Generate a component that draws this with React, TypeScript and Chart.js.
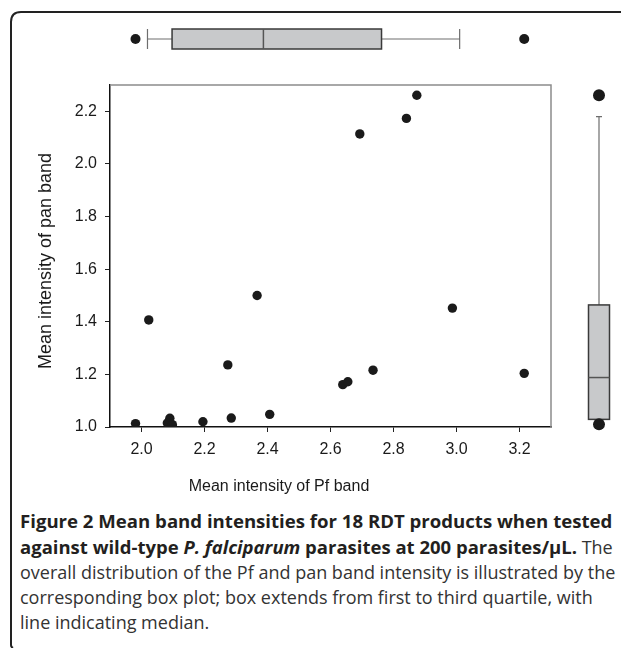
import React, { useEffect, useRef } from "react";
import { Chart, registerables } from "chart.js";

Chart.register(...registerables);

// Scatter data
const pfBand = [2.874, 2.841, 2.693, 2.023, 2.367, 2.987, 2.274, 2.735, 3.215, 2.639, 2.655, 1.981, 2.09, 2.082, 2.098, 2.195, 2.285, 2.407];
const panBand = [2.261, 2.173, 2.114, 1.407, 1.5, 1.452, 1.236, 1.216, 1.204, 1.161, 1.172, 1.013, 1.033, 1.015, 1.009, 1.02, 1.034, 1.048];

const xTickValues = [2.0, 2.2, 2.4, 2.6, 2.8, 3.0, 3.2];
const yTickValues = [1.0, 1.2, 1.4, 1.6, 1.8, 2.0, 2.2];

// Box plot stats: lower whisker, Q1, median, Q3, upper whisker
const pfBox = [2.019, 2.097, 2.387, 2.762, 3.01];
const pfOutliers = [1.981, 3.215];
const panBox = [1.013, 1.029, 1.188, 1.464, 2.18];
const panOutliers = [1.01, 2.261];

const xTitle = "Mean intensity of Pf band";
const yTitle = "Mean intensity of pan band";

const chartFont = '"Liberation Sans", Arial, Helvetica, sans-serif';

const boxPlotPlugin = {
  id: "marginalBoxes",
  afterDraw(chart: any) {
    const { ctx, chartArea: a, scales } = chart;
    const xs = scales.x;
    const ys = scales.y;
    ctx.save();

    // top & right frame of plot area (gray)
    ctx.strokeStyle = "#8c8c8c";
    ctx.lineWidth = 1.5;
    ctx.beginPath();
    ctx.moveTo(a.left, a.top);
    ctx.lineTo(a.right, a.top);
    ctx.lineTo(a.right, a.bottom);
    ctx.stroke();

    // horizontal box plot (Pf band) above the plot
    const cy = a.top - 46;
    const hh = 10;
    const [lw, q1, md, q3, uw] = pfBox.map((v) => xs.getPixelForValue(v));
    ctx.strokeStyle = "#6e6e6e";
    ctx.lineWidth = 1.2;
    ctx.beginPath();
    ctx.moveTo(lw, cy);
    ctx.lineTo(q1, cy);
    ctx.moveTo(q3, cy);
    ctx.lineTo(uw, cy);
    ctx.moveTo(lw, cy - hh);
    ctx.lineTo(lw, cy + hh);
    ctx.moveTo(uw, cy - hh);
    ctx.lineTo(uw, cy + hh);
    ctx.stroke();
    ctx.fillStyle = "#c8c9cb";
    ctx.fillRect(q1, cy - hh, q3 - q1, 2 * hh);
    ctx.strokeStyle = "#3a3a3a";
    ctx.lineWidth = 1.5;
    ctx.strokeRect(q1, cy - hh, q3 - q1, 2 * hh);
    ctx.strokeStyle = "#555";
    ctx.beginPath();
    ctx.moveTo(md, cy - hh);
    ctx.lineTo(md, cy + hh);
    ctx.stroke();
    ctx.fillStyle = "#1a1a1a";
    pfOutliers.forEach((v) => {
      ctx.beginPath();
      ctx.arc(xs.getPixelForValue(v), cy, 5, 0, Math.PI * 2);
      ctx.fill();
    });

    // vertical box plot (pan band) right of the plot
    const cx = a.right + 48;
    const hw = 10.5;
    const [vlw, vq1, vmd, vq3, vuw] = panBox.map((v) => ys.getPixelForValue(v));
    ctx.strokeStyle = "#6e6e6e";
    ctx.lineWidth = 1.2;
    ctx.beginPath();
    ctx.moveTo(cx, vq3);
    ctx.lineTo(cx, vuw);
    ctx.moveTo(cx - 3, vuw);
    ctx.lineTo(cx + 3, vuw);
    ctx.moveTo(cx, vq1);
    ctx.lineTo(cx, vlw);
    ctx.stroke();
    ctx.fillStyle = "#c8c9cb";
    ctx.fillRect(cx - hw, vq3, 2 * hw, vq1 - vq3);
    ctx.strokeStyle = "#3a3a3a";
    ctx.lineWidth = 1.5;
    ctx.strokeRect(cx - hw, vq3, 2 * hw, vq1 - vq3);
    ctx.strokeStyle = "#555";
    ctx.beginPath();
    ctx.moveTo(cx - hw, vmd);
    ctx.lineTo(cx + hw, vmd);
    ctx.stroke();
    ctx.fillStyle = "#1a1a1a";
    panOutliers.forEach((v) => {
      ctx.beginPath();
      ctx.arc(cx, ys.getPixelForValue(v), 6, 0, Math.PI * 2);
      ctx.fill();
    });

    // axis titles
    ctx.fillStyle = "#1a1a1a";
    ctx.textAlign = "center";
    ctx.textBaseline = "middle";
    ctx.font = "16px " + chartFont;
    ctx.fillText(xTitle, a.left + 169, a.bottom + 60);
    ctx.save();
    ctx.translate(46, (a.top + a.bottom) / 2 + 5);
    ctx.rotate(-Math.PI / 2);
    ctx.font = "18px " + chartFont;
    ctx.fillText(yTitle, 0, 0);
    ctx.restore();

    ctx.restore();
  },
};

function ScatterBox() {
  const ref = useRef<HTMLCanvasElement | null>(null);

  useEffect(() => {
    if (!ref.current) return;
    const points = pfBand.map((x, i) => ({ x, y: panBand[i] }));
    const chart = new Chart(ref.current, {
      type: "scatter",
      data: {
        datasets: [
          {
            data: points,
            backgroundColor: "#1a1a1a",
            borderWidth: 0,
            pointRadius: 4.7,
            pointHoverRadius: 4.7,
          },
        ],
      },
      options: {
        animation: false,
        responsive: false,
        devicePixelRatio: 1,
        events: [],
        layout: { padding: { left: 0, right: 70, top: 85, bottom: 0 } },
        plugins: {
          legend: { display: false },
          tooltip: { enabled: false },
        },
        scales: {
          x: {
            type: "linear",
            min: 1.9,
            max: 3.3,
            afterBuildTicks: (scale: any) => {
              scale.ticks = xTickValues.map((v) => ({ value: v }));
            },
            afterFit: (scale: any) => {
              scale.height = 73;
            },
            ticks: {
              callback: (v: any) => Number(v).toFixed(1),
              font: { family: chartFont, size: 16 },
              color: "#1a1a1a",
              padding: 8,
              maxRotation: 0,
              autoSkip: false,
            },
            grid: {
              display: true,
              drawOnChartArea: false,
              drawTicks: true,
              tickLength: 5,
              color: "#222",
              lineWidth: 1,
            },
            border: { display: true, color: "#111", width: 1.5 },
          },
          y: {
            type: "linear",
            min: 1.0,
            max: 2.3,
            afterBuildTicks: (scale: any) => {
              scale.ticks = yTickValues.map((v) => ({ value: v }));
            },
            afterFit: (scale: any) => {
              scale.width = 110;
            },
            ticks: {
              callback: (v: any) => Number(v).toFixed(1),
              font: { family: chartFont, size: 16 },
              color: "#1a1a1a",
              padding: 8,
              autoSkip: false,
            },
            grid: {
              display: true,
              drawOnChartArea: false,
              drawTicks: true,
              tickLength: 5,
              color: "#222",
              lineWidth: 1,
            },
            border: { display: true, color: "#111", width: 1.5 },
          },
        },
      },
      plugins: [boxPlotPlugin],
    });
    return () => chart.destroy();
  }, []);

  return <canvas ref={ref} width={621} height={500} style={{ display: "block", width: 621, height: 500 }} />;
}

const captionFont = '"Open Sans", "Noto Sans", sans-serif';

export default function App() {
  return (
    <div style={{ position: "absolute", left: 0, top: 0, width: 621, height: 648, background: "#fff", overflow: "hidden" }}>
      <svg
        width={621}
        height={648}
        style={{ position: "absolute", left: 0, top: 0, display: "block" }}
      >
        <path
          d="M 11 645 Q 11 647 13 648 M 11 645 L 11 22 Q 11 12 21 12 L 621 12"
          fill="none"
          stroke="#222"
          strokeWidth={2}
        />
      </svg>
      <div style={{ position: "absolute", left: 0, top: 0 }}>
        <ScatterBox />
      </div>
      <div
        style={{
          position: "absolute",
          left: 20,
          top: 508,
          width: 601,
          fontFamily: captionFont,
          color: "#231f20",
          whiteSpace: "nowrap",
        }}
      >
        <div style={{ fontWeight: 700, fontSize: 18.6, lineHeight: "26px" }}>
          Figure 2 Mean band intensities for 18 RDT products when tested
        </div>
        <div style={{ fontSize: 18.5, lineHeight: "26px" }}>
          <span style={{ fontWeight: 700 }}>
            against wild-type <i>P. falciparum</i> parasites at 200 parasites/µL.
          </span>
          <span style={{ fontWeight: 400, color: "#333", fontSize: 18 }}> The</span>
        </div>
        <div style={{ fontSize: 18, lineHeight: "25px", color: "#333" }}>
          overall distribution of the Pf and pan band intensity is illustrated by the
        </div>
        <div style={{ fontSize: 18, lineHeight: "25px", color: "#333" }}>
          corresponding box plot; box extends from first to third quartile, with
        </div>
        <div style={{ fontSize: 18, lineHeight: "25px", color: "#333" }}>line indicating median.</div>
      </div>
    </div>
  );
}
